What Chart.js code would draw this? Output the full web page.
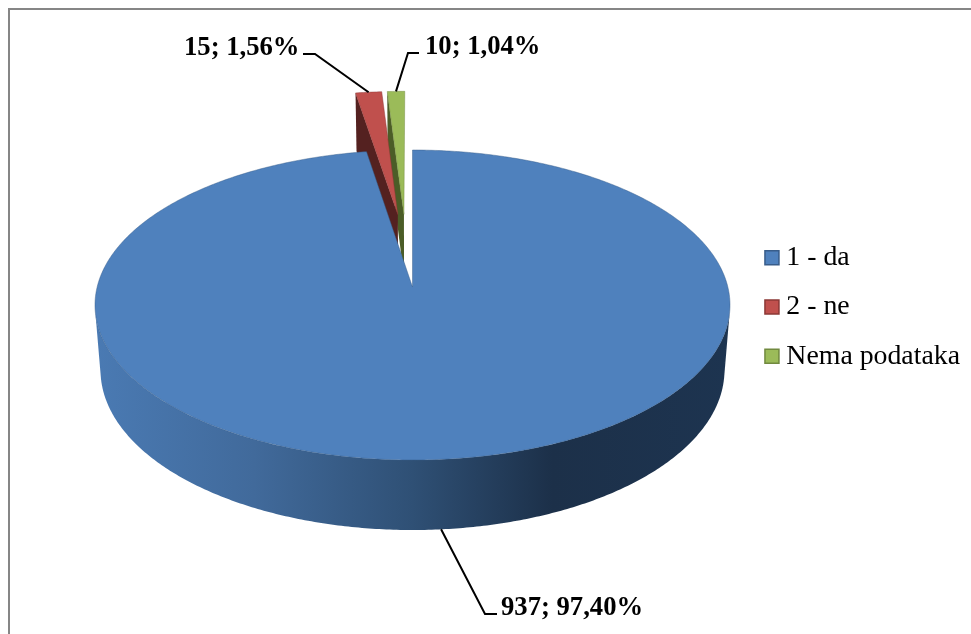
<!DOCTYPE html>
<html>
<head>
<meta charset="utf-8">
<style>html,body{margin:0;padding:0;background:#fff;overflow:hidden}canvas{display:block}</style>
<script src="https://cdn.jsdelivr.net/npm/chart.js@4"></script>
</head>
<body>
<canvas id="c" width="971" height="634"></canvas>
<script>
const categories = ['1 - da', '2 - ne', 'Nema podataka'];
const values = [937, 15, 10];
const faceColors = ['#4f81bd', '#c0504d', '#9bbb59'];
const edgeColors = ['#385d8a', '#8c3836', '#71893f'];
const cutColors = ['#2c4a6e', '#542120', '#4b5d27'];

// scene layout, not data
const TOP = {cx: 412.5, cy: 305, rx: 317.5, ry: 155};
const BOT = {cx: 412.5, cy: 370, rx: 312, ry: 160};
const TILT = -0.116;
const EXPLODE = 0.252;
const LABEL_TEXT = [[501, 615], [184, 55], [425, 54]];
const LABEL_TAIL = [[497, 614], [303, 54], [419, 53]];
const LABEL_KNEE = [[485, 614], [315, 54], [408, 53]];
const LEGEND_SHIFT = -1;
const WALL_STOPS = [[0, '#4a7ab3'], [0.25, '#416a9b'], [0.5, '#2f5075'], [0.72, '#1c3049'], [1, '#1d3450']];

function project(p, u, v) {
  const d = 1 + v * TILT, s = Math.sqrt(1 - TILT * TILT);
  return [p.cx + p.rx * u * s / d, p.cy + p.ry * (v + TILT) / d];
}
function sliceCentre(arcs, i) {
  const mid = a => (a.startAngle + a.endAngle) / 2;
  const m0 = mid(arcs[0]), m = mid(arcs[i]);
  return [EXPLODE * (Math.cos(m) - Math.cos(m0)), EXPLODE * (Math.sin(m) - Math.sin(m0))];
}
function rimPoint(p, c, a) { return project(p, c[0] + Math.cos(a), c[1] + Math.sin(a)); }
function tracePoly(ctx, pts) {
  pts.forEach((q, i) => i ? ctx.lineTo(q[0], q[1]) : ctx.moveTo(q[0], q[1]));
}
function sweep(a0, a1) {
  const n = Math.max(2, Math.ceil(Math.abs(a1 - a0) / 0.01)), out = [];
  for (let i = 0; i <= n; i++) out.push(a0 + (a1 - a0) * i / n);
  return out;
}
function signedArea(pts) {
  let s = 0;
  pts.forEach((q, i) => { const r = pts[(i + 1) % pts.length]; s += q[0] * r[1] - r[0] * q[1]; });
  return s;
}

const pie3d = {
  id: 'pie3d',
  afterLayout(chart) { chart.legend.left += LEGEND_SHIFT; },
  beforeDraw(chart) {
    const ctx = chart.ctx;
    ctx.save();
    ctx.strokeStyle = '#868686';
    ctx.lineWidth = 2;
    ctx.strokeRect(9, 9, 2000, 2000);
    ctx.restore();
  },
  beforeDatasetDraw(chart) {
    const ctx = chart.ctx, arcs = chart.getDatasetMeta(0).data;
    ctx.save();
    ctx.lineJoin = 'round';
    for (let i = arcs.length - 1; i >= 0; i--) {
      const arc = arcs[i], c = sliceCentre(arcs, i);
      const a0 = arc.startAngle, a1 = arc.endAngle;
      // front rim wall: all viewer-facing strips in one path, so the outline is the hull of both rims
      const f0 = Math.max(a0, -0.4), f1 = Math.min(a1, Math.PI + 0.4);
      if (f1 > f0) {
        const as = sweep(f0, f1);
        const g = ctx.createLinearGradient(TOP.cx - TOP.rx, 0, TOP.cx + TOP.rx, 0);
        WALL_STOPS.forEach(s => g.addColorStop(s[0], s[1]));
        ctx.beginPath();
        for (let k = 0; k < as.length - 1; k++) {
          const quad = [rimPoint(TOP, c, as[k]), rimPoint(TOP, c, as[k + 1]), rimPoint(BOT, c, as[k + 1]), rimPoint(BOT, c, as[k])];
          if (signedArea(quad) < 0) { tracePoly(ctx, quad); ctx.closePath(); }
        }
        ctx.fillStyle = g;
        ctx.fill('nonzero');
      }
      // cut wall
      if (i > 0) {
        ctx.beginPath();
        tracePoly(ctx, [rimPoint(TOP, c, a0), project(TOP, c[0], c[1]), project(BOT, c[0], c[1]), rimPoint(BOT, c, a0)]);
        ctx.closePath();
        ctx.fillStyle = cutColors[i];
        ctx.fill();
      }
      // top face
      ctx.beginPath();
      tracePoly(ctx, [project(TOP, c[0], c[1])].concat(sweep(a0, a1).map(a => rimPoint(TOP, c, a))));
      ctx.closePath();
      ctx.fillStyle = faceColors[i];
      ctx.fill();
      ctx.strokeStyle = edgeColors[i];
      ctx.globalAlpha = 0.45;
      ctx.lineWidth = 1;
      ctx.stroke();
      ctx.globalAlpha = 1;
    }
    ctx.restore();
    return false;
  },
  afterDatasetsDraw(chart) {
    const ctx = chart.ctx, arcs = chart.getDatasetMeta(0).data;
    const total = values.reduce((s, v) => s + v, 0);
    ctx.save();
    ctx.strokeStyle = '#000';
    ctx.lineWidth = 2;
    ctx.fillStyle = '#000';
    ctx.font = 'bold 26.67px "Liberation Serif"';
    ctx.textBaseline = 'alphabetic';
    arcs.forEach((arc, i) => {
      const c = sliceCentre(arcs, i), m = (arc.startAngle + arc.endAngle) / 2;
      const anchor = rimPoint(i === 0 ? BOT : TOP, c, m);
      ctx.beginPath();
      tracePoly(ctx, [anchor, LABEL_KNEE[i], LABEL_TAIL[i]]);
      ctx.stroke();
      const pct = (values[i] / total * 100).toFixed(2).replace('.', ',');
      ctx.fillText(values[i] + '; ' + pct + '%', LABEL_TEXT[i][0], LABEL_TEXT[i][1]);
    });
    ctx.restore();
  }
};

new Chart(document.getElementById('c'), {
  type: 'pie',
  data: {
    labels: categories,
    datasets: [{data: values, backgroundColor: faceColors, borderColor: edgeColors, borderWidth: 1.5}]
  },
  plugins: [pie3d],
  options: {
    responsive: false,
    animation: false,
    layout: {padding: {bottom: 20}},
    plugins: {
      tooltip: {enabled: false},
      legend: {
        position: 'right',
        labels: {
          usePointStyle: true,
          pointStyle: 'rect',
          boxWidth: 1,
          boxHeight: 14,
          padding: 21.5,
          color: '#000',
          font: {family: '"Liberation Serif"', size: 27.8}
        }
      }
    }
  }
});
</script>
</body>
</html>
